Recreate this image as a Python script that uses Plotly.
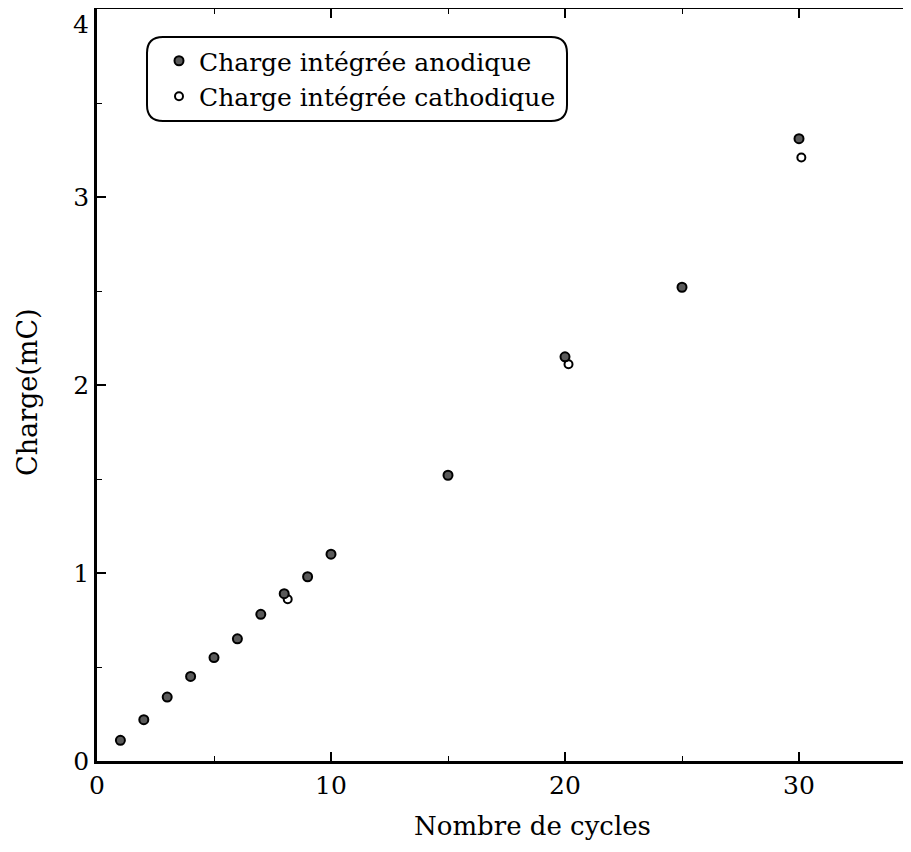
import plotly.graph_objects as go

# Data
cycles_anod = [1, 2, 3, 4, 5, 6, 7, 8, 9, 10, 15, 20, 25, 30]
charge_anod = [0.11, 0.22, 0.34, 0.45, 0.55, 0.65, 0.78, 0.89, 0.98, 1.10, 1.52, 2.15, 2.52, 3.31]
cycles_cath = [8.15, 20.15, 30.1]
charge_cath = [0.86, 2.11, 3.21]
y_ticks = [0, 1, 2, 3]
y_top_label = "4"

# page has an 8px body margin: work in figure pixels
OFF = 8
W, H = 911 - OFF, 852 - OFF
ML, MR, MT, MB = 89, 0, 1, 91
PW, PH = W - ML - MR, H - MT - MB
FONT = "DejaVu Serif"


def px2paper(sx, sy):
    """screen pixel (reference coords) -> paper coords"""
    fx, fy = sx - OFF, sy - OFF
    return (fx - ML) / PW, (H - MB - fy) / PH


fig = go.Figure()
fig.add_trace(go.Scatter(
    x=cycles_cath, y=charge_cath, mode="markers",
    name="Charge intégrée cathodique",
    marker=dict(size=8, color="white", line=dict(color="black", width=2)),
))
fig.add_trace(go.Scatter(
    x=cycles_anod, y=charge_anod, mode="markers",
    name="Charge intégrée anodique",
    marker=dict(size=9, color="#5a5a5a", line=dict(color="black", width=2)),
))


def rounded_rect(x0, y0, x1, y1, r):
    def P(x, y):
        a, b = px2paper(x, y)
        return f"{a:.5f},{b:.5f}"
    return (f"M {P(x0 + r, y0)} L {P(x1 - r, y0)} Q {P(x1, y0)} {P(x1, y0 + r)} "
            f"L {P(x1, y1 - r)} Q {P(x1, y1)} {P(x1 - r, y1)} "
            f"L {P(x0 + r, y1)} Q {P(x0, y1)} {P(x0, y1 - r)} "
            f"L {P(x0, y0 + r)} Q {P(x0, y0)} {P(x0 + r, y0)} Z")


fig.add_shape(type="path", xref="paper", yref="paper",
              path=rounded_rect(147, 37, 567, 121, 16),
              line=dict(color="black", width=2), fillcolor="rgba(0,0,0,0)", layer="above")

tx, ty = px2paper(532, 826)
fig.add_annotation(text="Nombre de cycles", xref="paper", yref="paper", x=tx, y=ty,
                   xanchor="center", yanchor="middle", showarrow=False,
                   font=dict(family=FONT, size=26, color="black"))
ax_, ay_ = px2paper(27, 392)
fig.add_annotation(text="Charge(mC)", xref="paper", yref="paper", x=ax_, y=ay_,
                   xanchor="center", yanchor="middle", showarrow=False, textangle=-90,
                   font=dict(family=FONT, size=27, color="black"))
# top y label sits just below the page edge in the reference
fx4, fy4 = px2paper(91, 8)
fig.add_annotation(text=y_top_label, xref="paper", yref="paper", x=fx4, y=fy4,
                   xanchor="right", yanchor="top", showarrow=False,
                   font=dict(family=FONT, size=25, color="black"))

lx, ly = px2paper(159, 38)
fig.update_layout(
    width=W, height=H,
    margin=dict(l=ML, r=MR, t=MT, b=MB),
    paper_bgcolor="white", plot_bgcolor="white",
    font=dict(family=FONT, color="black"),
    showlegend=True,
    legend=dict(x=lx, y=ly, xanchor="left", yanchor="top", traceorder="reversed",
                bgcolor="rgba(0,0,0,0)", borderwidth=0,
                font=dict(family=FONT, size=25, color="black"),
                itemsizing="trace", tracegroupgap=0),
    xaxis=dict(range=[0, PW / 23.4], dtick=10, tick0=0, ticks="inside", ticklen=9,
               tickwidth=1.5, tickcolor="black",
               minor=dict(dtick=5, ticks="inside", ticklen=5, tickwidth=1.2, tickcolor="black"),
               showline=True, linecolor="black", linewidth=2.5, mirror="ticks",
               showgrid=False, zeroline=False, automargin=False,
               ticklabeloverflow="allow",
               tickfont=dict(family=FONT, size=25)),
    yaxis=dict(range=[0, 4], tickvals=y_ticks, ticks="inside", ticklen=9,
               tickwidth=1.5, tickcolor="black",
               minor=dict(dtick=0.5, ticks="inside", ticklen=5, tickwidth=1.2, tickcolor="black"),
               showline=True, linecolor="black", linewidth=2.5,
               showgrid=False, zeroline=False, automargin=False,
               ticklabeloverflow="allow",
               tickfont=dict(family=FONT, size=25)),
)

fig.write_html("out.html")
